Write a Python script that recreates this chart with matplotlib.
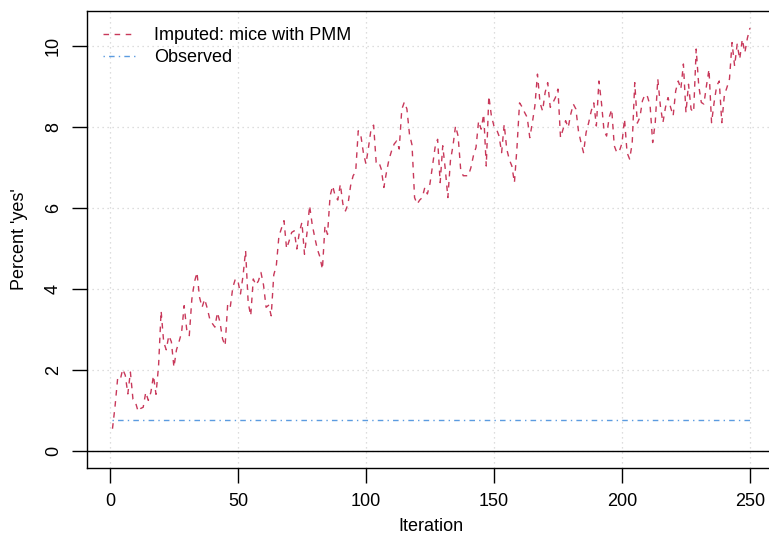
import matplotlib
matplotlib.use("Agg")
import matplotlib.pyplot as plt
import numpy as np

plt.rcParams['font.family'] = ['Liberation Sans', 'DejaVu Sans']

iterations = list(range(1, 251))
imputed = [
    0.55, 1.10, 1.78, 1.75, 2.02, 1.87, 1.41, 1.95, 1.28, 1.20,
    0.98, 1.05, 1.08, 1.45, 1.25, 1.45, 1.86, 1.40, 2.10, 3.46,
    2.69, 2.50, 2.85, 2.70, 2.07, 2.50, 2.70, 2.93, 3.59, 3.00,
    2.85, 3.75, 4.17, 4.41, 3.80, 3.55, 3.75, 3.53, 3.26, 3.15,
    3.06, 3.42, 3.18, 2.77, 2.60, 3.63, 3.55, 4.04, 4.25, 4.20,
    3.88, 4.33, 4.95, 3.67, 3.34, 4.25, 4.10, 4.20, 4.41, 4.10,
    3.55, 3.60, 3.34, 4.35, 4.58, 5.30, 5.50, 5.69, 5.00, 5.19,
    5.40, 5.44, 4.99, 5.40, 5.65, 4.86, 5.40, 6.06, 5.60, 5.28,
    4.99, 4.80, 4.49, 5.56, 5.35, 6.30, 6.55, 6.30, 6.20, 6.59,
    6.10, 5.93, 6.10, 6.55, 6.80, 6.90, 7.91, 7.80, 7.37, 7.09,
    7.50, 7.95, 8.05, 7.13, 7.15, 6.96, 6.51, 6.88, 7.20, 7.41,
    7.58, 7.66, 7.46, 8.44, 8.62, 8.45, 7.83, 7.56, 6.26, 6.10,
    6.20, 6.26, 6.51, 6.35, 6.60, 7.04, 7.50, 7.70, 6.63, 7.54,
    6.96, 6.26, 7.17, 7.54, 8.03, 7.78, 6.96, 6.80, 6.80, 6.80,
    7.00, 7.30, 7.50, 8.15, 7.95, 8.32, 7.04, 8.77, 8.28, 8.03,
    7.95, 7.78, 7.37, 8.07, 7.46, 7.20, 7.04, 6.63, 7.50, 8.60,
    8.50, 8.36, 8.24, 7.74, 8.11, 8.53, 9.31, 8.60, 8.40, 8.86,
    9.10, 8.49, 8.60, 8.73, 8.94, 7.74, 7.95, 8.16, 7.99, 8.32,
    8.57, 8.45, 7.91, 7.62, 7.37, 7.87, 8.11, 8.40, 8.60, 8.03,
    9.14, 8.60, 7.91, 7.78, 8.24, 8.44, 7.54, 7.37, 7.41, 7.60,
    8.20, 7.37, 7.21, 7.60, 9.10, 8.10, 8.24, 8.65, 8.81, 8.75,
    8.53, 7.62, 8.11, 9.19, 8.53, 8.11, 8.49, 8.73, 8.49, 8.28,
    8.90, 9.14, 8.94, 9.56, 8.36, 9.06, 8.44, 8.37, 9.93, 9.02,
    8.61, 8.57, 9.02, 9.43, 8.11, 8.61, 9.02, 9.14, 8.11, 8.79,
    8.98, 9.19, 10.09, 9.51, 10.05, 9.68, 10.17, 9.84, 10.20, 10.45,
]
observed_value = 0.76
observed = [observed_value] * len(iterations)

x_ticks = [0, 50, 100, 150, 200, 250]
y_ticks = [0, 2, 4, 6, 8, 10]

FS = 13

fig = plt.figure(figsize=(7.69, 5.36), dpi=100)
ax = fig.add_axes([0.1131, 0.1269, 0.8953, 0.8526])

ax.set_xlim(-8.96, 259.96)
ax.set_ylim(-0.42, 10.87)

for xt in x_ticks:
    ax.axvline(xt, color='#D3D3D3', linestyle=(0, (1, 3)), linewidth=0.9, zorder=0)
for yt in y_ticks:
    ax.axhline(yt, color='#D3D3D3', linestyle=(0, (1, 3)), linewidth=0.9, zorder=0)

ax.axhline(0, color='black', linewidth=1.0, zorder=1)

ax.plot(iterations, imputed, color='#C8385A', linewidth=1.0,
        linestyle=(0, (4, 4)), label='Imputed: mice with PMM', zorder=3)
ax.plot(iterations, observed, color='#5B9BE0', linewidth=1.0,
        linestyle=(0, (1, 3, 4, 3)), label='Observed', zorder=2)

ax.set_xticks(x_ticks)
ax.set_yticks(y_ticks)
ax.set_xticklabels([str(t) for t in x_ticks], fontsize=FS)
ax.set_yticklabels([str(t) for t in y_ticks], fontsize=FS, rotation=90, va='center')
ax.tick_params(axis='both', direction='out', length=11, width=1.0, colors='black', pad=7)

for s in ax.spines.values():
    s.set_linewidth(1.0)
    s.set_color('black')

ax.set_xlabel('Iteration', fontsize=FS, labelpad=6)
ax.set_ylabel("Percent 'yes'", fontsize=FS, labelpad=12)

leg = ax.legend(loc='upper left', bbox_to_anchor=(0.0, 1.0), frameon=False,
                fontsize=FS, handlelength=1.8, handletextpad=1.0,
                labelspacing=0.28, borderaxespad=0.5)

fig.savefig('out.png', dpi=100)
